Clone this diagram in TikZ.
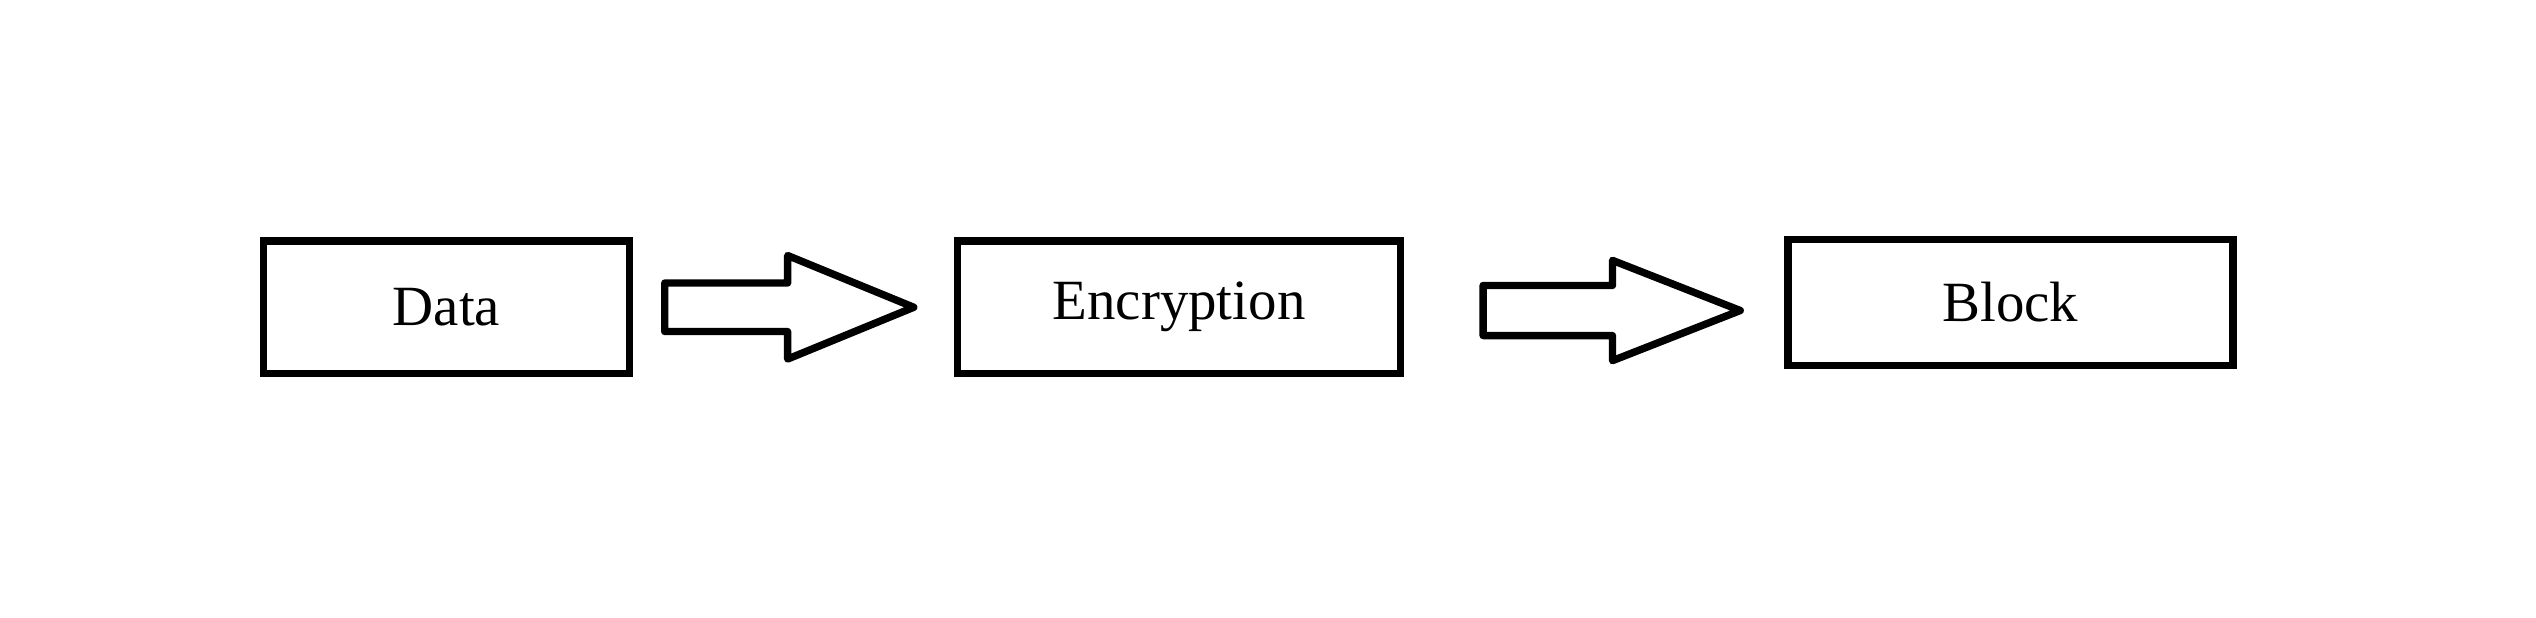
\documentclass[tikz,border=0pt]{standalone}
\usepackage{fontspec}
\setmainfont{Liberation Serif}
\usetikzlibrary{positioning}
\tikzset{
  stagebox/.style={draw, line width=1.3pt, inner sep=0pt, font=\fontsize{10}{12}\selectfont},
  blockarrow/.style={draw, line width=1.3pt, line join=round}
}
% hollow block arrow: start x, tip x, head x, centre y, shaft half, head half
\newcommand{\hollowarrow}[6]{%
  \draw[blockarrow] (#1,#4+#5) -- (#3,#4+#5) -- (#3,#4+#6) -- (#2,#4)
    -- (#3,#4-#6) -- (#3,#4-#5) -- (#1,#4-#5) -- cycle;}
\begin{document}
\begin{tikzpicture}[x=0.01cm, y=0.01cm]
  \useasboundingbox (0,0) rectangle (1568,382);
  \node[stagebox, minimum width=2.26cm, minimum height=0.82cm] (data) at (276,192) {Data};
  \node[stagebox, minimum width=2.74cm, minimum height=0.82cm] (enc) at (729,192) {Encryption};
  \node[stagebox, minimum width=2.75cm, minimum height=0.78cm] (block) at (1243,195) {Block};
  \hollowarrow{411}{565}{487}{192}{15}{32}
  \hollowarrow{917}{1076}{997}{190}{15.5}{31}
\end{tikzpicture}
\end{document}
